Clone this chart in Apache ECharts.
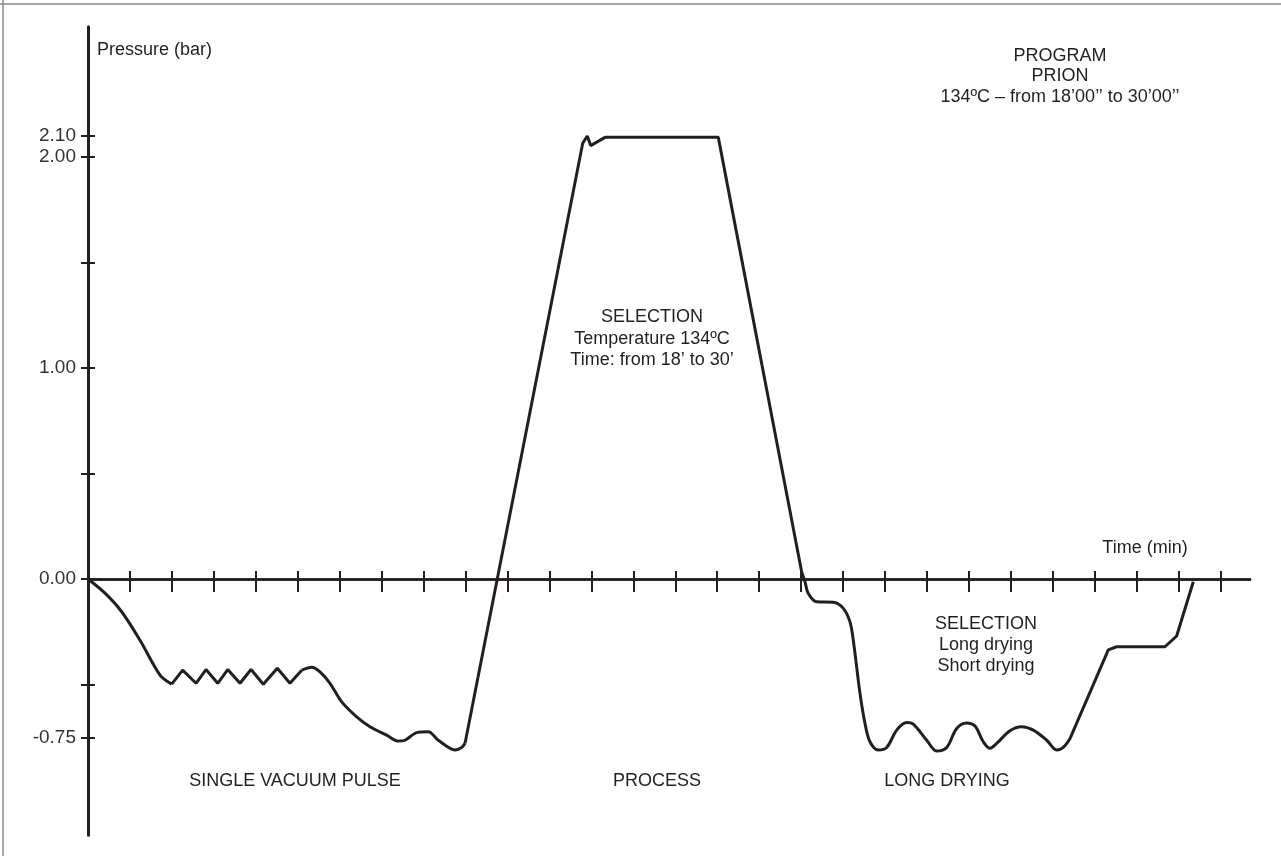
<!DOCTYPE html>
<html>
<head>
<meta charset="utf-8">
<title>Program Prion - pressure cycle</title>
<script src="https://cdn.jsdelivr.net/npm/echarts@6.0.0/dist/echarts.min.js"></script>
<style>
  html, body { margin: 0; padding: 0; background: #fff; }
  #chart { width: 1281px; height: 856px; }
</style>
</head>
<body>
<div id="chart"></div>
<script>
// [time (min), pressure (bar)], one array per phase
const preVacuum = [
  [0, 0], [0.405, -0.067], [0.803, -0.155], [1.24, -0.29], [1.716, -0.455], [1.995, -0.498]
];
const pulseZigzag = [
  [1.995, -0.498], [2.257, -0.432], [2.575, -0.494], [2.813, -0.429], [3.092, -0.494],
  [3.331, -0.429], [3.624, -0.494], [3.886, -0.429], [4.179, -0.499], [4.513, -0.423],
  [4.815, -0.494], [5.094, -0.432]
];
const vacuumTail = [
  [5.094, -0.432], [5.333, -0.418], [5.53, -0.44], [5.769, -0.494], [6.048, -0.582],
  [6.405, -0.653], [6.722, -0.7], [7.12, -0.74], [7.397, -0.768], [7.557, -0.764],
  [7.835, -0.728], [8.112, -0.724], [8.35, -0.764], [8.749, -0.81], [8.908, -0.798], [8.987, -0.779]
];
const processRamp = [
  [8.987, -0.779], [11.793, 2.065], [11.902, 2.099], [11.983, 2.054], [12.324, 2.093],
  [15.025, 2.093], [17.013, 0.033]
];
const dryingDip = [
  [17.013, 0.033], [17.092, -0.014], [17.17, -0.068], [17.371, -0.108], [17.766, -0.11],
  [18.005, -0.139], [18.164, -0.203], [18.243, -0.29], [18.403, -0.542], [18.522, -0.684],
  [18.641, -0.771], [18.839, -0.81], [19.039, -0.798], [19.278, -0.716], [19.516, -0.68],
  [19.673, -0.688], [19.993, -0.764], [20.231, -0.815], [20.47, -0.798], [20.708, -0.708],
  [20.946, -0.682], [21.144, -0.697], [21.342, -0.771], [21.502, -0.802], [21.661, -0.779],
  [21.979, -0.719], [22.257, -0.7], [22.534, -0.716], [22.853, -0.764], [23.092, -0.81],
  [23.249, -0.798], [23.409, -0.756]
];
const dryingReturn = [
  [23.409, -0.756], [24.322, -0.336], [24.522, -0.321], [25.673, -0.321], [25.952, -0.27], [26.348, -0.013]
];

const xTickValues = [1, 2, 3, 4, 5, 6, 7, 8, 9, 10, 11, 12, 13, 14, 15, 16, 17, 18, 19, 20, 21, 22, 23, 24, 25, 26, 27];
const yTickValues = [-0.75, -0.5, 0, 0.5, 1, 1.5, 2, 2.1];
const yLabelValues = [-0.75, 0, 1, 2, 2.1];

const INK = '#231f20';
const FONT = '"Liberation Sans", Arial, sans-serif';

const chart = echarts.init(document.getElementById('chart'));

// segments drawn smooth or with sharp corners, like the original
const segments = [
  { data: preVacuum, smooth: 0.3 },
  { data: pulseZigzag, smooth: false },
  { data: vacuumTail, smooth: 0.3 },
  { data: processRamp, smooth: false },
  { data: dryingDip, smooth: 0.35 },
  { data: dryingReturn, smooth: false }
];

const xBase = {
  type: 'value',
  min: 0,
  max: 27.7,
  axisLabel: { show: false },
  splitLine: { show: false }
};

const yBase = {
  type: 'value',
  min: -1.213,
  max: 2.616,
  splitLine: { show: false },
  axisLine: { onZero: true, lineStyle: { color: INK, width: 3 } }
};

function note(x, y, text) {
  return {
    type: 'text',
    x: x,
    y: y,
    style: {
      text: text,
      fill: INK,
      font: '18px ' + FONT,
      textAlign: 'center',
      textVerticalAlign: 'middle'
    }
  };
}

chart.setOption({
  animation: false,
  backgroundColor: '#fff',
  grid: { left: 88, right: 31, top: 27, bottom: 21 },
  xAxis: [
    Object.assign({}, xBase, {
      position: 'bottom',
      axisLine: { onZero: true, lineStyle: { color: INK, width: 2.5 } },
      axisTick: { customValues: xTickValues, length: 13, lineStyle: { color: INK, width: 2 } }
    }),
    Object.assign({}, xBase, {
      position: 'top',
      axisLine: { onZero: true, lineStyle: { color: INK, width: 2.5 } },
      axisTick: { customValues: xTickValues, length: 8, lineStyle: { color: INK, width: 2 } }
    })
  ],
  yAxis: [
    Object.assign({}, yBase, {
      position: 'left',
      axisTick: { customValues: yTickValues, length: 7, lineStyle: { color: INK, width: 2 } },
      axisLabel: {
        customValues: yLabelValues,
        margin: 12,
        color: '#333',
        fontSize: 19,
        fontFamily: FONT,
        formatter: v => v.toFixed(2)
      }
    }),
    Object.assign({}, yBase, {
      position: 'right',
      axisTick: { customValues: yTickValues, length: 7, lineStyle: { color: INK, width: 2 } },
      axisLabel: { show: false }
    })
  ],
  series: segments.map(s => ({
    type: 'line',
    xAxisIndex: 0,
    yAxisIndex: 0,
    data: s.data,
    smooth: s.smooth,
    symbol: 'none',
    lineStyle: { color: INK, width: 3 }
  })),
  graphic: [
    { type: 'line', shape: { x1: 0, y1: 4, x2: 1281, y2: 4 }, style: { stroke: '#888', lineWidth: 1.5 } },
    { type: 'line', shape: { x1: 3, y1: 0, x2: 3, y2: 856 }, style: { stroke: '#888', lineWidth: 1.5 } },
    {
      type: 'text', x: 97, y: 50,
      style: { text: 'Pressure (bar)', fill: INK, font: '18px ' + FONT, textAlign: 'left', textVerticalAlign: 'middle' }
    },
    note(1145, 548, 'Time (min)'),
    note(1060, 56, 'PROGRAM'),
    note(1060, 76, 'PRION'),
    note(1060, 97, '134ºC – from 18’00’’ to 30’00’’'),
    note(652, 317, 'SELECTION'),
    note(652, 339, 'Temperature 134ºC'),
    note(652, 360, 'Time: from 18’ to 30’'),
    note(986, 624, 'SELECTION'),
    note(986, 645, 'Long drying'),
    note(986, 666, 'Short drying'),
    note(295, 781, 'SINGLE VACUUM PULSE'),
    note(657, 781, 'PROCESS'),
    note(947, 781, 'LONG DRYING')
  ]
});
</script>
</body>
</html>
